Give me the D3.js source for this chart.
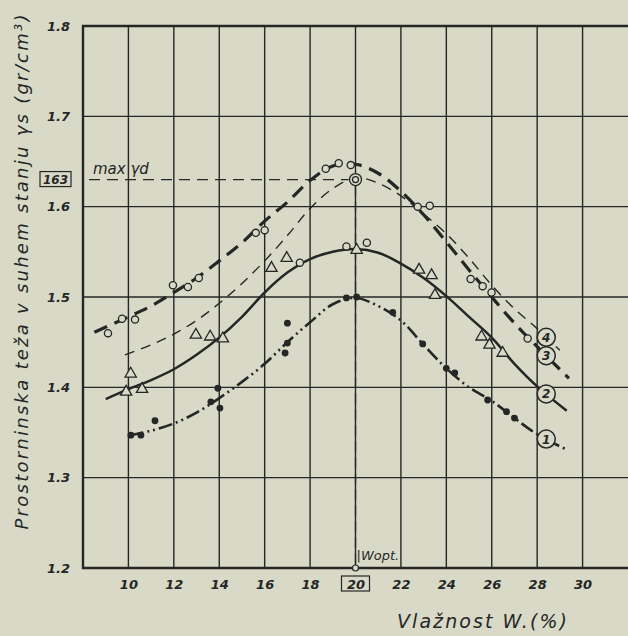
<!DOCTYPE html>
<html>
<head>
<meta charset="utf-8">
<script src="https://cdn.jsdelivr.net/npm/d3@7"></script>
<style>
  html, body { margin: 0; padding: 0; background: #d8dac7; }
  svg { display: block; }
  text { font-family: "DejaVu Sans", sans-serif; font-style: italic; fill: #262626; }
</style>
</head>
<body>
<svg id="chart" width="628" height="636"></svg>
<script>
// tick values
var xTicks = [10, 12, 14, 16, 18, 20, 22, 24, 26, 28, 30];
var yTicks = [1.2, 1.3, 1.4, 1.5, 1.6, 1.7, 1.8];
var yTickLabels = ["1.2", "1.3", "1.4", "1.5", "1.6", "1.7", "1.8"];

// optimum / max values
var wOpt = 20;
var maxGd = 1.63;
var maxGdLabel = "163";

// curves: [moisture %, dry density]
var curve1 = [[10.05,1.347],[11,1.352],[12,1.360],[13,1.372],[14,1.388],[15,1.406],[16,1.426],[17,1.450],
  [18,1.472],[19,1.492],[20,1.499],[21,1.490],[22,1.474],[23,1.447],[24,1.421],[25,1.400],[26,1.385],
  [27,1.366],[28,1.348],[29.3,1.331]];
var curve2 = [[9,1.387],[10,1.398],[11,1.408],[12,1.420],[13,1.436],[14,1.455],[15,1.478],[16,1.505],
  [17,1.527],[18,1.542],[19,1.550],[20,1.553],[21,1.549],[22,1.537],[23,1.521],[24,1.501],[25,1.478],
  [26,1.455],[27,1.426],[28,1.401],[29.3,1.374]];
var curve3 = [[8.5,1.461],[10,1.478],[11,1.490],[12,1.505],[13,1.521],[14,1.540],[15,1.560],[16,1.584],
  [17,1.605],[18,1.629],[19,1.645],[20,1.647],[21,1.637],[22,1.617],[23,1.591],[24,1.561],[25,1.530],
  [26,1.500],[27,1.471],[28,1.445],[29.4,1.410]];
var curve4 = [[9.85,1.436],[11,1.447],[12,1.459],[13,1.474],[14,1.493],[15,1.515],[16,1.540],[17,1.568],
  [18,1.598],[19,1.620],[20,1.632],[21,1.626],[22,1.612],[23,1.592],[24,1.570],[25,1.543],[26,1.513],
  [27,1.487],[28,1.465],[29,1.441]];

// measured points
var openCircles = [[9.1,1.460],[9.72,1.476],[10.29,1.475],[11.96,1.513],[12.62,1.511],[13.1,1.521],
  [15.61,1.571],[16.0,1.574],[18.69,1.642],[19.26,1.648],[19.79,1.646],[22.74,1.600],[23.27,1.601],
  [25.07,1.520],[25.6,1.512],[25.99,1.505],[27.58,1.454],[17.55,1.538],[19.6,1.556],[20.5,1.560]];
var triangles = [[9.9,1.395],[10.1,1.415],[10.6,1.398],[12.97,1.458],[13.6,1.456],[14.16,1.454],
  [16.3,1.532],[16.97,1.543],[20.05,1.552],[22.8,1.530],[23.35,1.524],[23.5,1.502],[25.55,1.456],
  [25.9,1.447],[26.48,1.438]];
var filledDots = [[10.11,1.347],[10.55,1.347],[11.17,1.363],[13.63,1.384],[13.94,1.399],[14.03,1.377],
  [16.9,1.438],[17.0,1.449],[17.0,1.471],[19.6,1.499],[20.05,1.500],[21.64,1.483],[22.96,1.448],
  [24.0,1.421],[24.37,1.416],[25.82,1.386],[26.65,1.373],[27.0,1.366]];

var curveNames = ["1", "2", "3", "4"];
var labelX = 28.4;

var ink = "#262626";
var paper = "#d8dac7";
var svg = d3.select("#chart");

var x = d3.scaleLinear().domain([8, 32]).range([83, 628]);
var y = d3.scaleLinear().domain([1.2, 1.8]).range([568, 26]);

// grid
svg.append("g").selectAll("line").data(xTicks).enter().append("line")
  .attr("x1", d => x(d)).attr("x2", d => x(d))
  .attr("y1", y(1.8)).attr("y2", y(1.2))
  .attr("stroke", ink).attr("stroke-width", 1.4);
svg.append("g").selectAll("line").data(yTicks.slice(1, -1)).enter().append("line")
  .attr("x1", x(8)).attr("x2", x(32))
  .attr("y1", d => y(d)).attr("y2", d => y(d))
  .attr("stroke", ink).attr("stroke-width", 1.4);

// frame (left, top, bottom)
svg.append("path")
  .attr("d", "M" + x(32) + "," + y(1.8) + "H" + x(8) + "V" + y(1.2) + "H" + x(32))
  .attr("fill", "none").attr("stroke", ink).attr("stroke-width", 2.4);

// axis tick labels through d3 axes
var xAxis = svg.append("g").attr("transform", "translate(0," + y(1.2) + ")")
  .call(d3.axisBottom(x).tickValues(xTicks).tickSize(0).tickPadding(12));
xAxis.select(".domain").remove();
xAxis.selectAll("text").style("font-size", "13px").style("font-family", "DejaVu Sans")
  .style("font-style", "italic").style("font-weight", "600").attr("fill", ink);

var yAxis = svg.append("g").attr("transform", "translate(" + x(8) + ",0)")
  .call(d3.axisLeft(y).tickValues(yTicks).tickSize(0).tickPadding(13)
    .tickFormat((d, i) => yTickLabels[i]));
yAxis.select(".domain").remove();
yAxis.selectAll("text").style("font-size", "13px").style("font-family", "DejaVu Sans")
  .style("font-style", "italic").style("font-weight", "600").attr("fill", ink);

// boxed 20 on x axis
svg.append("rect").attr("x", x(wOpt) - 14).attr("y", y(1.2) + 8).attr("width", 28).attr("height", 15)
  .attr("fill", "none").attr("stroke", ink).attr("stroke-width", 1.2);

// boxed 163 on y axis
svg.append("rect").attr("x", 40).attr("y", y(maxGd) - 8).attr("width", 31).attr("height", 15)
  .attr("fill", "none").attr("stroke", ink).attr("stroke-width", 1.2);
svg.append("text").attr("x", 55.5).attr("y", y(maxGd) + 4.5).attr("text-anchor", "middle")
  .style("font-size", "12px").style("font-weight", "600").text(maxGdLabel);

// max γd dashed line
svg.append("line").attr("x1", x(8) + 6).attr("x2", x(19.7))
  .attr("y1", y(maxGd)).attr("y2", y(maxGd))
  .attr("stroke", ink).attr("stroke-width", 1.3).attr("stroke-dasharray", "11,7");
svg.append("text").attr("x", 93).attr("y", y(maxGd) - 6).style("font-size", "15px").text("max γd");

// Wopt dashed vertical
svg.append("line").attr("x1", x(wOpt)).attr("x2", x(wOpt))
  .attr("y1", y(maxGd) + 6).attr("y2", y(1.2))
  .attr("stroke", ink).attr("stroke-width", 1.3).attr("stroke-dasharray", "10,6");
svg.append("circle").attr("cx", x(wOpt)).attr("cy", y(1.2)).attr("r", 3)
  .attr("fill", paper).attr("stroke", ink).attr("stroke-width", 1.2);
svg.append("text").attr("x", x(wOpt) + 1).attr("y", y(1.2) - 8).style("font-size", "13px").text("|Wopt.");

// curves
var line = d3.line().x(d => x(d[0])).y(d => y(d[1])).curve(d3.curveCatmullRom.alpha(0.5));
var curves = [curve1, curve2, curve3, curve4];
var styles = [
  { w: 2.6, dash: "14,4,2,4,2,4" },
  { w: 2.5, dash: null },
  { w: 3.2, dash: "14,8" },
  { w: 1.4, dash: "10,7" }
];
curves.forEach(function (c, i) {
  svg.append("path").datum(c).attr("d", line)
    .attr("fill", "none").attr("stroke", ink)
    .attr("stroke-width", styles[i].w)
    .attr("stroke-dasharray", styles[i].dash);
});

// markers
svg.append("g").selectAll("circle").data(openCircles).enter().append("circle")
  .attr("cx", d => x(d[0])).attr("cy", d => y(d[1])).attr("r", 3.6)
  .attr("fill", paper).attr("stroke", ink).attr("stroke-width", 1.3);
var tri = d3.symbol().type(d3.symbolTriangle).size(55);
svg.append("g").selectAll("path").data(triangles).enter().append("path")
  .attr("d", tri).attr("transform", d => "translate(" + x(d[0]) + "," + y(d[1]) + ")")
  .attr("fill", paper).attr("stroke", ink).attr("stroke-width", 1.3);
svg.append("g").selectAll("circle").data(filledDots).enter().append("circle")
  .attr("cx", d => x(d[0])).attr("cy", d => y(d[1])).attr("r", 3.4)
  .attr("fill", ink);

// bullseye at max
svg.append("circle").attr("cx", x(wOpt)).attr("cy", y(maxGd)).attr("r", 6)
  .attr("fill", paper).attr("stroke", ink).attr("stroke-width", 1.3);
svg.append("circle").attr("cx", x(wOpt)).attr("cy", y(maxGd)).attr("r", 3)
  .attr("fill", "none").attr("stroke", ink).attr("stroke-width", 1.3);

// circled curve numbers, placed on each curve at labelX
function yAt(c, xv) {
  for (var i = 1; i < c.length; i++) {
    if (c[i][0] >= xv) {
      var t = (xv - c[i - 1][0]) / (c[i][0] - c[i - 1][0]);
      return c[i - 1][1] + t * (c[i][1] - c[i - 1][1]);
    }
  }
  return c[c.length - 1][1];
}
curves.forEach(function (c, i) {
  var cx = x(labelX), cy = y(yAt(c, labelX));
  svg.append("circle").attr("cx", cx).attr("cy", cy).attr("r", 9)
    .attr("fill", paper).attr("stroke", ink).attr("stroke-width", 1.5);
  svg.append("text").attr("x", cx).attr("y", cy + 4.5).attr("text-anchor", "middle")
    .style("font-size", "12px").style("font-weight", "600").text(curveNames[i]);
});

// axis titles
svg.append("text").attr("transform", "translate(28,272) rotate(-90)")
  .attr("text-anchor", "middle").style("font-size", "18px")
  .attr("textLength", 515).attr("lengthAdjust", "spacing")
  .text("Prostorninska teža v suhem stanju γs (gr/cm³)");
svg.append("text").attr("x", 482).attr("y", 628).attr("text-anchor", "middle")
  .style("font-size", "19px").attr("textLength", 170).attr("lengthAdjust", "spacing")
  .text("Vlažnost W.(%)");
</script>
</body>
</html>
